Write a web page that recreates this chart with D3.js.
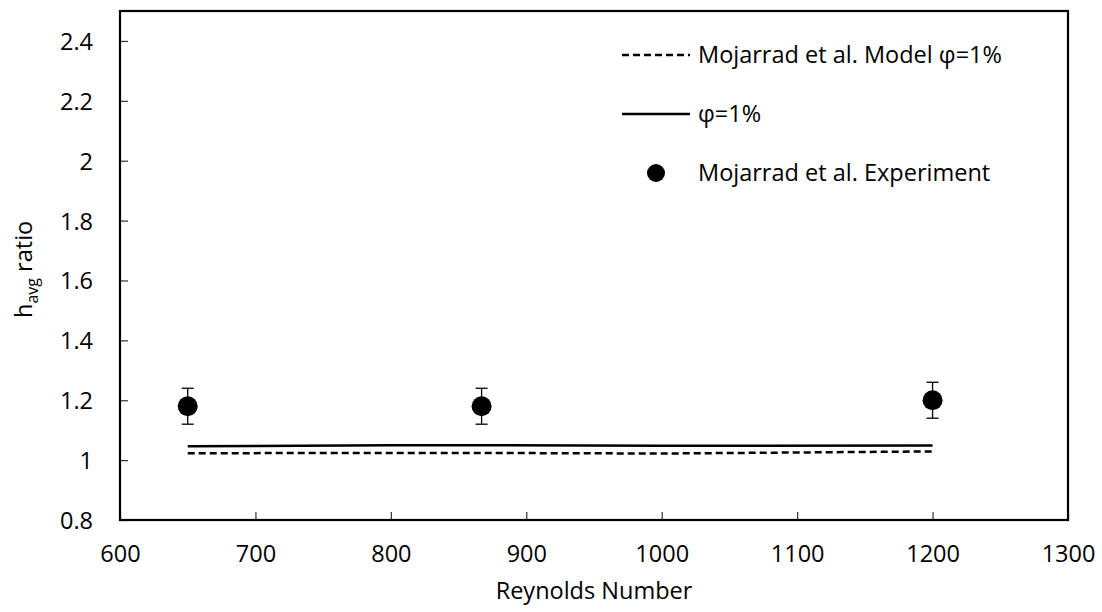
<!DOCTYPE html>
<html>
<head>
<meta charset="utf-8">
<script src="https://cdn.jsdelivr.net/npm/d3@7"></script>
<style>
	body { margin: 0; background: #fff; }
	text { font-family: "Open Sans", sans-serif; fill: #000; }
</style>
</head>
<body>
<svg id="chart" width="1102" height="612"></svg>
<script>
// Reynolds number values and h_avg ratio readings
const modelRe = [650, 800, 867, 1000, 1200];
const modelH = [1.023, 1.024, 1.024, 1.022, 1.029];   // Mojarrad et al. model
const simH = [1.046, 1.05, 1.05, 1.048, 1.049];       // phi = 1%

const expRe = [650, 867, 1200];
const expH = [1.18, 1.18, 1.2];
const expErr = [0.06, 0.06, 0.06];

const xTicks = [600, 700, 800, 900, 1000, 1100, 1200, 1300];
const yTicks = [0.8, 1, 1.2, 1.4, 1.6, 1.8, 2, 2.2, 2.4];

const legendLabels = ["Mojarrad et al. Model \u03c6=1%", "\u03c6=1%", "Mojarrad et al. Experiment"];

const fontSize = "23.5px";

const margin = {top: 11, right: 34, bottom: 92, left: 120};
const width = 1102 - margin.left - margin.right;
const height = 612 - margin.top - margin.bottom;

const svg = d3.select("#chart");
const g = svg.append("g")
	.attr("transform", `translate(${margin.left},${margin.top})`);

const x = d3.scaleLinear().domain([600, 1300]).range([0, width]);
const y = d3.scaleLinear().domain([0.8, 2.5]).range([height, 0]);

// axes, ticks point inwards
const xAxis = d3.axisBottom(x)
	.tickValues(xTicks)
	.tickSizeInner(-8)
	.tickSizeOuter(0)
	.tickPadding(25)
	.tickFormat(d3.format("d"));

const yAxis = d3.axisLeft(y)
	.tickValues(yTicks)
	.tickSizeInner(-8)
	.tickSizeOuter(0)
	.tickPadding(27)
	.tickFormat(d => d3.format("")(+d.toFixed(1)));

const gx = g.append("g")
	.attr("transform", `translate(0,${height})`)
	.call(xAxis);
const gy = g.append("g").call(yAxis);

[gx, gy].forEach(a => {
	a.select(".domain").remove();
	a.selectAll(".tick line").attr("stroke", "#333").attr("stroke-width", 1.2);
	a.selectAll(".tick text")
		.style("font-family", "'Open Sans', sans-serif")
		.style("font-size", fontSize)
		.attr("fill", "#000");
});
gy.selectAll(".tick text").attr("dy", "0.36em");

// frame
g.append("rect")
	.attr("x", 0).attr("y", 0)
	.attr("width", width).attr("height", height)
	.attr("fill", "none")
	.attr("stroke", "#000")
	.attr("stroke-width", 2.2);

// lines
const line = d3.line()
	.x((d, i) => x(modelRe[i]))
	.y(d => y(d));

g.append("path")
	.datum(modelH)
	.attr("d", line)
	.attr("fill", "none")
	.attr("stroke", "#000")
	.attr("stroke-width", 2.5)
	.attr("stroke-dasharray", "7,4");

g.append("path")
	.datum(simH)
	.attr("d", line)
	.attr("fill", "none")
	.attr("stroke", "#000")
	.attr("stroke-width", 2.5);

// experiment points with error bars
const pts = g.selectAll(".pt")
	.data(expRe.map((re, i) => ({re: re, h: expH[i], e: expErr[i]})))
	.enter().append("g")
	.attr("class", "pt");

pts.append("line")
	.attr("x1", d => x(d.re)).attr("x2", d => x(d.re))
	.attr("y1", d => y(d.h + d.e)).attr("y2", d => y(d.h - d.e))
	.attr("stroke", "#000").attr("stroke-width", 1.3);
[1, -1].forEach(s => {
	pts.append("line")
		.attr("x1", d => x(d.re) - 6).attr("x2", d => x(d.re) + 6)
		.attr("y1", d => y(d.h + s * d.e)).attr("y2", d => y(d.h + s * d.e))
		.attr("stroke", "#000").attr("stroke-width", 1.3);
});
pts.append("circle")
	.attr("cx", d => x(d.re))
	.attr("cy", d => y(d.h))
	.attr("r", 10)
	.attr("fill", "#000");

// axis titles
svg.append("text")
	.attr("x", margin.left + width / 2)
	.attr("y", 599)
	.attr("text-anchor", "middle")
	.style("font-size", fontSize)
	.text("Reynolds Number");

const yt = svg.append("text")
	.attr("transform", "translate(32,318) rotate(-90)")
	.style("font-size", fontSize);
yt.append("tspan").text("h");
yt.append("tspan").attr("dy", 6).style("font-size", "16px").text("avg");
yt.append("tspan").attr("dy", -6).text(" ratio");

// legend
const legend = svg.append("g").attr("transform", "translate(622,0)");
const rows = [63, 122, 181];

legend.append("line")
	.attr("x1", 0).attr("x2", 68)
	.attr("y1", rows[0] - 8).attr("y2", rows[0] - 8)
	.attr("stroke", "#000").attr("stroke-width", 2.5)
	.attr("stroke-dasharray", "7,4");
legend.append("line")
	.attr("x1", 0).attr("x2", 68)
	.attr("y1", rows[1] - 8).attr("y2", rows[1] - 8)
	.attr("stroke", "#000").attr("stroke-width", 2.5);
legend.append("circle")
	.attr("cx", 34).attr("cy", rows[2] - 8)
	.attr("r", 9).attr("fill", "#000");

legend.selectAll(".lt")
	.data(legendLabels)
	.enter().append("text")
	.attr("class", "lt")
	.attr("x", 76)
	.attr("y", (d, i) => rows[i])
	.style("font-size", fontSize)
	.text(d => d);
</script>
</body>
</html>
